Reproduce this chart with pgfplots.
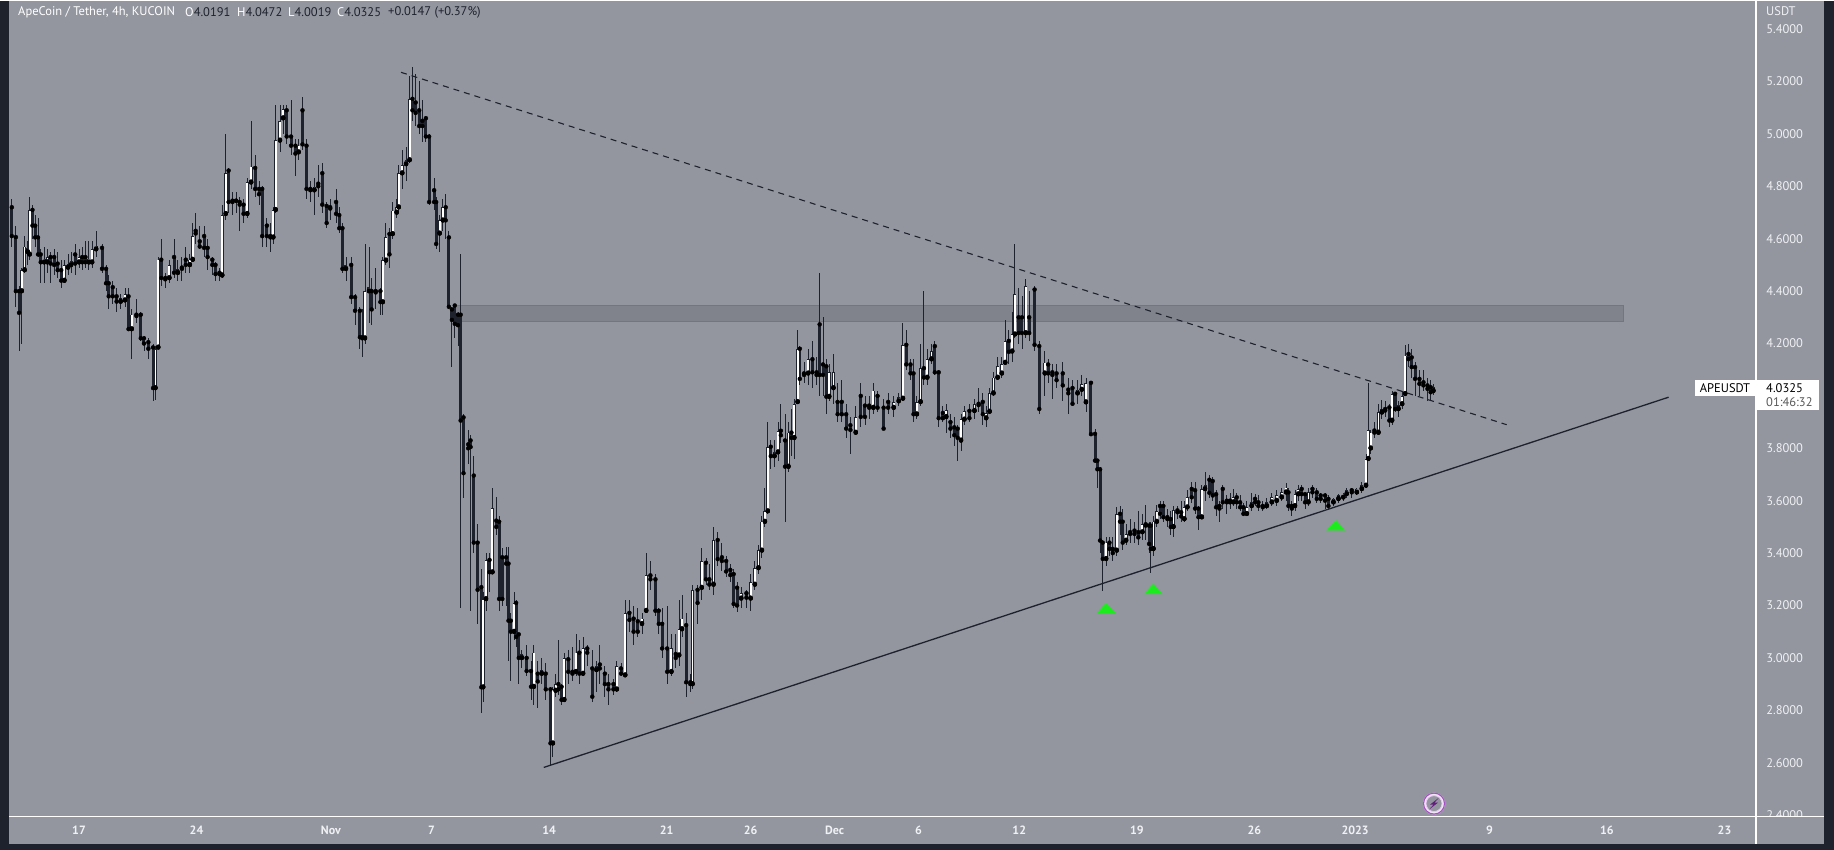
\documentclass[border=0pt]{standalone}
\usepackage{pgfplots}
\usepackage{pgfplotstable}
\usepackage{fontspec}
\pgfplotsset{compat=1.18}
\setmainfont{PT Sans}
\definecolor{panel}{RGB}{147,150,159}
\definecolor{frame}{RGB}{30,34,45}
\definecolor{bandfill}{RGB}{128,131,140}
\definecolor{bandedge}{RGB}{115,118,127}
\definecolor{ticktxt}{RGB}{240,241,244}
\definecolor{signal}{RGB}{30,235,30}
\definecolor{bolt}{RGB}{100,30,125}
\definecolor{ring}{RGB}{165,80,195}

% 4h candles; x = days after 17 Oct, o h l c in USDT
\pgfplotstableread{
x o h l c
-4.00 4.72 4.75 4.57 4.61
-3.76 4.606 4.65 4.34 4.40
-3.57 4.40 4.42 4.17 4.317
-3.41 4.40 4.49 4.20 4.48
-3.24 4.48 4.61 4.47 4.57
-3.06 4.55 4.59 4.50 4.56
-2.94 4.54 4.76 4.52 4.71
-2.77 4.71 4.73 4.60 4.65
-2.61 4.65 4.69 4.57 4.605
-2.44 4.605 4.68 4.53 4.54
-2.28 4.54 4.56 4.43 4.51
-2.07 4.51 4.57 4.43 4.52
-1.88 4.51 4.56 4.47 4.53
-1.69 4.53 4.55 4.43 4.505
-1.48 4.53 4.56 4.46 4.50
-1.27 4.505 4.55 4.45 4.48
-1.06 4.48 4.52 4.41 4.44
-0.87 4.44 4.52 4.43 4.50
-0.65 4.49 4.54 4.46 4.50
-0.47 4.50 4.55 4.47 4.51
-0.23 4.54 4.58 4.46 4.505
0.00 4.51 4.56 4.49 4.53
0.19 4.53 4.57 4.48 4.51
0.38 4.53 4.59 4.49 4.51
0.59 4.51 4.59 4.48 4.52
0.78 4.51 4.59 4.49 4.56
1.02 4.56 4.63 4.53 4.565
1.37 4.565 4.58 4.47 4.485
1.61 4.485 4.50 4.40 4.43
1.77 4.43 4.46 4.33 4.38
2.01 4.415 4.44 4.35 4.38
2.24 4.38 4.41 4.32 4.36
2.48 4.36 4.39 4.33 4.365
2.74 4.365 4.41 4.34 4.39
2.95 4.38 4.41 4.25 4.255
3.14 4.255 4.33 4.14 4.31
3.42 4.31 4.37 4.28 4.305
3.68 4.31 4.32 4.21 4.22
3.87 4.22 4.23 4.17 4.20
4.13 4.205 4.22 4.14 4.18
4.41 4.185 4.20 3.98 4.03
4.55 4.03 4.19 3.985 4.18
4.72 4.185 4.53 4.18 4.52
4.90 4.52 4.60 4.42 4.45
5.14 4.45 4.47 4.41 4.445
5.38 4.45 4.52 4.43 4.50
5.66 4.53 4.60 4.45 4.47
5.89 4.47 4.52 4.44 4.475
6.13 4.49 4.53 4.44 4.485
6.36 4.52 4.57 4.47 4.50
6.60 4.50 4.54 4.47 4.52
6.77 4.52 4.66 4.51 4.61
6.95 4.63 4.70 4.58 4.62
7.19 4.59 4.65 4.56 4.57
7.45 4.61 4.65 4.53 4.565
7.66 4.565 4.60 4.48 4.53
7.94 4.52 4.53 4.46 4.50
8.13 4.50 4.51 4.44 4.465
8.37 4.47 4.49 4.44 4.465
8.53 4.46 4.73 4.45 4.69
8.74 4.695 5.00 4.67 4.85
8.91 4.86 4.87 4.70 4.74
9.14 4.745 4.78 4.69 4.74
9.36 4.745 4.78 4.70 4.745
9.57 4.74 4.76 4.63 4.73
9.80 4.73 4.75 4.66 4.695
10.02 4.695 4.83 4.68 4.815
10.25 4.815 5.05 4.79 4.875
10.49 4.87 4.92 4.76 4.79
10.72 4.79 4.82 4.73 4.77
10.91 4.79 4.80 4.57 4.61
11.19 4.65 4.68 4.57 4.61
11.40 4.61 4.66 4.55 4.605
11.57 4.605 4.72 4.58 4.71
11.71 4.71 5.11 4.70 4.975
11.97 4.975 5.11 4.93 5.05
12.16 5.06 5.11 5.00 5.095
12.37 5.09 5.11 4.96 4.99
12.63 4.99 5.13 4.92 4.955
12.89 4.955 4.98 4.84 4.925
13.08 4.93 4.98 4.90 4.955
13.31 5.09 5.14 4.94 4.96
13.55 4.955 4.98 4.75 4.79
13.78 4.79 4.82 4.74 4.785
14.02 4.785 4.83 4.69 4.795
14.25 4.81 4.88 4.76 4.80
14.49 4.85 4.89 4.70 4.73
14.75 4.725 4.74 4.64 4.66
14.96 4.72 4.75 4.67 4.715
15.31 4.74 4.79 4.66 4.695
15.50 4.69 4.72 4.62 4.64
15.69 4.64 4.66 4.47 4.485
15.90 4.485 4.53 4.44 4.50
16.21 4.50 4.53 4.35 4.377
16.44 4.377 4.39 4.27 4.325
16.73 4.325 4.34 4.18 4.224
16.87 4.224 4.33 4.15 4.22
17.03 4.22 4.58 4.20 4.40
17.27 4.40 4.57 4.28 4.408
17.43 4.40 4.45 4.27 4.33
17.67 4.40 4.49 4.33 4.395
17.95 4.40 4.41 4.31 4.358
18.09 4.358 4.53 4.31 4.517
18.28 4.517 4.66 4.50 4.605
18.49 4.618 4.64 4.49 4.54
18.68 4.618 4.74 4.60 4.707
18.92 4.70 4.75 4.68 4.72
19.04 4.72 4.88 4.70 4.85
19.25 4.85 4.94 4.79 4.88
19.48 4.885 4.95 4.82 4.90
19.69 4.90 5.22 4.89 5.134
19.86 5.134 5.257 5.05 5.09
20.05 5.12 5.23 5.03 5.08
20.26 5.09 5.20 5.00 5.03
20.45 5.05 5.13 4.97 5.03
20.66 5.06 5.07 4.97 4.99
20.85 4.99 5.00 4.73 4.74
21.15 4.785 4.83 4.71 4.74
21.27 4.74 4.76 4.56 4.58
21.48 4.62 4.69 4.55 4.67
21.67 4.67 4.75 4.63 4.72
21.84 4.72 4.77 4.60 4.67
22.03 4.605 4.63 4.33 4.34
22.21 4.33 4.34 4.11 4.29
22.38 4.345 4.35 4.22 4.275
22.57 4.31 4.32 4.19 4.27
22.73 4.31 4.54 3.19 3.906
22.90 3.918 3.93 3.61 3.705
23.18 3.815 3.87 3.74 3.80
23.32 3.83 3.85 3.18 3.805
23.51 3.696 3.77 3.40 3.44
23.74 3.44 3.51 3.13 3.26
23.96 3.27 3.34 2.79 2.888
24.07 2.888 3.25 2.83 3.225
24.24 3.225 3.40 3.18 3.374
24.45 3.374 3.40 3.25 3.327
24.62 3.327 3.65 3.32 3.572
24.85 3.524 3.615 3.47 3.50
25.02 3.52 3.54 3.18 3.225
25.21 3.384 3.42 3.20 3.225
25.44 3.384 3.425 3.20 3.36
25.58 3.36 3.425 2.99 3.142
25.72 3.142 3.17 2.91 3.10
25.91 3.10 3.25 3.07 3.21
26.03 3.21 3.22 3.04 3.08
26.19 3.09 3.09 2.90 3.00
26.38 3.00 3.03 2.96 3.005
26.66 3.00 3.05 2.93 2.95
26.92 2.95 2.99 2.84 2.89
27.09 2.89 3.05 2.82 3.02
27.32 2.94 2.99 2.81 2.91
27.56 2.94 3.00 2.90 2.945
27.80 2.94 2.98 2.84 2.88
28.08 2.88 2.89 2.59 2.674
28.22 2.674 2.89 2.62 2.88
28.39 2.875 2.94 2.85 2.90
28.55 2.90 3.07 2.86 2.88
28.74 2.89 2.90 2.82 2.84
28.90 2.84 3.02 2.83 3.00
29.14 2.995 3.03 2.90 2.947
29.39 2.947 3.04 2.91 2.94
29.60 2.947 3.09 2.93 3.02
29.80 3.02 3.07 2.90 2.94
30.02 2.94 3.08 2.93 3.036
30.27 3.036 3.05 2.97 3.02
30.57 2.96 3.03 2.83 2.852
30.82 2.954 2.99 2.87 2.968
31.02 2.975 3.05 2.90 2.96
31.32 2.94 2.97 2.85 2.90
31.53 2.90 2.94 2.82 2.88
31.83 2.90 2.92 2.86 2.88
32.03 2.88 2.99 2.87 2.968
32.28 2.96 2.98 2.93 2.94
32.53 2.934 3.22 2.93 3.172
32.78 3.172 3.22 3.10 3.145
33.03 3.15 3.20 3.05 3.10
33.28 3.14 3.19 3.08 3.10
33.53 3.13 3.17 3.09 3.15
33.78 3.18 3.40 3.17 3.315
34.03 3.315 3.37 3.26 3.30
34.33 3.30 3.32 3.16 3.18
34.53 3.18 3.19 3.09 3.13
34.73 3.13 3.19 3.00 3.036
35.03 3.036 3.20 2.90 2.947
35.28 2.947 3.09 2.93 3.036
35.54 3.015 3.09 2.96 3.00
35.74 3.01 3.22 2.97 3.11
35.91 3.11 3.24 3.08 3.15
36.16 3.125 3.17 2.85 2.907
36.41 2.907 2.94 2.87 2.90
36.54 2.90 3.28 2.88 3.26
36.84 3.26 3.28 3.13 3.21
37.09 3.268 3.42 3.22 3.37
37.34 3.363 3.38 3.28 3.30
37.54 3.30 3.36 3.26 3.28
37.79 3.28 3.50 3.24 3.45
38.04 3.45 3.48 3.35 3.377
38.29 3.384 3.44 3.33 3.37
38.54 3.37 3.39 3.31 3.33
38.79 3.336 3.36 3.29 3.316
38.99 3.32 3.34 3.19 3.206
39.19 3.268 3.29 3.175 3.20
39.44 3.227 3.27 3.19 3.247
39.75 3.247 3.26 3.19 3.23
40.00 3.227 3.32 3.18 3.288
40.25 3.28 3.37 3.26 3.343
40.47 3.343 3.43 3.32 3.41
40.67 3.41 3.54 3.38 3.52
40.85 3.52 3.65 3.50 3.56
41.02 3.56 3.90 3.55 3.806
41.20 3.806 3.83 3.72 3.77
41.42 3.77 3.83 3.73 3.785
41.63 3.785 3.90 3.75 3.867
41.80 3.867 3.97 3.82 3.85
42.05 3.83 3.93 3.52 3.73
42.25 3.73 3.90 3.71 3.86
42.43 3.86 3.95 3.77 3.84
42.60 3.84 3.99 3.76 3.97
42.80 3.977 4.25 3.97 4.18
42.93 4.18 4.19 4.04 4.065
43.18 4.086 4.13 4.05 4.08
43.43 4.086 4.18 4.04 4.14
43.68 4.14 4.21 4.03 4.09
43.93 4.09 4.15 4.04 4.08
44.11 4.273 4.47 4.00 4.08
44.31 4.12 4.30 4.00 4.08
44.51 4.113 4.14 3.93 3.997
44.68 3.997 4.12 3.98 4.09
44.93 4.03 4.16 3.97 4.09
45.18 3.977 4.05 3.90 3.93
45.43 3.977 4.06 3.90 3.93
45.69 3.93 3.97 3.84 3.875
45.94 3.888 3.92 3.78 3.87
46.26 3.86 3.96 3.85 3.92
46.56 4.00 4.05 3.88 3.92
46.81 3.963 4.00 3.89 3.92
47.06 3.963 4.00 3.91 3.955
47.31 3.955 4.05 3.93 4.02
47.56 4.00 4.02 3.94 3.955
47.92 3.955 3.99 3.87 3.875
48.19 3.977 4.01 3.93 3.955
48.52 3.955 4.00 3.92 3.977
48.82 3.98 4.01 3.96 3.987
49.07 3.99 4.28 3.98 4.195
49.27 4.195 4.25 4.10 4.12
49.52 4.12 4.14 4.06 4.086
49.70 4.086 4.14 3.90 3.93
49.90 3.93 4.00 3.91 3.977
50.12 3.977 4.20 3.96 4.106
50.32 4.106 4.40 4.04 4.07
50.52 4.07 4.18 4.04 4.14
50.77 4.14 4.20 4.12 4.17
50.97 4.19 4.21 4.08 4.09
51.20 4.09 4.10 3.88 3.915
51.45 3.935 3.96 3.90 3.915
51.65 3.92 3.97 3.86 3.945
51.90 3.90 3.93 3.84 3.875
52.13 3.88 3.92 3.81 3.85
52.33 3.875 3.89 3.75 3.84
52.53 3.83 3.93 3.79 3.91
52.73 3.91 3.96 3.89 3.943
53.03 3.943 3.97 3.90 3.915
53.33 3.943 3.99 3.91 3.97
53.58 3.97 4.03 3.94 3.965
53.83 3.977 4.01 3.89 3.93
54.03 3.915 3.96 3.88 3.935
54.23 3.94 4.03 3.93 4.01
54.46 4.01 4.09 4.00 4.07
54.71 4.07 4.15 4.06 4.113
54.96 4.086 4.15 4.07 4.12
55.16 4.127 4.29 4.12 4.21
55.38 4.21 4.25 4.12 4.168
55.58 4.17 4.32 4.13 4.235
55.74 4.235 4.58 4.22 4.39
55.96 4.30 4.41 4.20 4.24
56.16 4.30 4.38 4.18 4.24
56.39 4.24 4.445 4.22 4.42
56.59 4.30 4.40 4.21 4.24
56.91 4.406 4.42 4.17 4.195
57.19 4.19 4.21 3.93 3.95
57.52 4.086 4.17 4.00 4.127
57.72 4.12 4.14 4.05 4.086
57.97 4.09 4.12 3.99 4.08
58.22 4.086 4.12 4.03 4.06
58.59 4.086 4.13 3.98 4.04
58.92 4.024 4.07 3.93 4.01
59.17 4.03 4.06 3.96 3.97
59.47 4.01 4.06 3.97 4.024
59.72 4.024 4.08 4.00 4.045
59.97 3.976 4.07 3.94 4.05
60.27 4.05 4.055 3.85 3.854
60.51 3.855 3.875 3.745 3.753
60.65 3.753 3.76 3.65 3.72
60.81 3.72 3.73 3.40 3.448
60.97 3.44 3.45 3.257 3.378
61.17 3.378 3.46 3.35 3.44
61.37 3.44 3.46 3.39 3.416
61.57 3.416 3.46 3.37 3.40
61.80 3.41 3.575 3.39 3.55
62.00 3.55 3.58 3.47 3.52
62.16 3.52 3.57 3.41 3.44
62.36 3.448 3.51 3.43 3.473
62.60 3.48 3.53 3.44 3.473
62.86 3.486 3.52 3.44 3.473
63.09 3.48 3.56 3.43 3.46
63.33 3.48 3.55 3.45 3.51
63.53 3.51 3.585 3.45 3.505
63.73 3.505 3.52 3.40 3.435
63.83 3.505 3.52 3.325 3.416
63.99 3.416 3.54 3.39 3.52
64.19 3.52 3.585 3.50 3.56
64.38 3.58 3.60 3.53 3.55
64.58 3.58 3.60 3.52 3.537
64.82 3.537 3.57 3.50 3.53
65.02 3.53 3.56 3.47 3.50
65.18 3.50 3.58 3.46 3.563
65.42 3.563 3.58 3.53 3.556
65.64 3.556 3.60 3.52 3.54
65.83 3.53 3.60 3.52 3.575
66.01 3.575 3.64 3.56 3.613
66.27 3.645 3.67 3.59 3.613
66.47 3.64 3.67 3.55 3.57
66.67 3.57 3.58 3.49 3.537
66.87 3.537 3.66 3.53 3.645
67.06 3.645 3.71 3.60 3.65
67.32 3.68 3.70 3.61 3.63
67.52 3.675 3.69 3.60 3.62
67.72 3.625 3.64 3.54 3.575
67.92 3.58 3.60 3.52 3.57
68.12 3.645 3.66 3.57 3.594
68.36 3.60 3.62 3.55 3.594
68.55 3.60 3.63 3.57 3.594
68.75 3.594 3.645 3.58 3.613
68.95 3.613 3.63 3.57 3.594
69.15 3.594 3.62 3.56 3.575
69.35 3.575 3.59 3.54 3.55
69.55 3.55 3.60 3.54 3.575
69.84 3.58 3.63 3.56 3.594
70.04 3.607 3.625 3.58 3.594
70.24 3.594 3.62 3.56 3.58
70.50 3.58 3.60 3.56 3.575
70.74 3.58 3.61 3.57 3.594
71.04 3.594 3.63 3.58 3.613
71.33 3.60 3.64 3.58 3.62
71.63 3.613 3.65 3.60 3.632
71.89 3.632 3.668 3.60 3.65
72.03 3.632 3.65 3.56 3.58
72.23 3.58 3.60 3.54 3.57
72.42 3.58 3.64 3.56 3.625
72.62 3.625 3.66 3.60 3.645
72.82 3.645 3.66 3.60 3.625
73.02 3.625 3.63 3.57 3.594
73.22 3.594 3.65 3.58 3.632
73.46 3.645 3.66 3.61 3.632
73.72 3.632 3.65 3.59 3.607
73.95 3.62 3.63 3.59 3.607
74.21 3.62 3.63 3.57 3.60
74.41 3.607 3.62 3.57 3.58
74.71 3.594 3.61 3.58 3.60
75.01 3.607 3.625 3.59 3.613
75.30 3.613 3.63 3.60 3.62
75.50 3.626 3.65 3.61 3.64
75.80 3.64 3.65 3.61 3.632
76.10 3.632 3.65 3.62 3.64
76.40 3.645 3.67 3.63 3.658
76.65 3.658 3.78 3.65 3.76
76.79 3.76 4.05 3.75 3.868
76.93 3.80 3.87 3.78 3.86
77.15 3.868 3.90 3.84 3.86
77.39 3.86 3.97 3.85 3.937
77.59 3.937 3.985 3.91 3.95
77.79 3.95 3.98 3.92 3.944
78.04 3.956 3.97 3.88 3.906
78.20 3.906 4.02 3.89 4.008
78.38 4.008 4.01 3.94 3.95
78.58 3.95 3.98 3.92 3.963
78.80 3.969 4.02 3.95 4.00
78.98 4.008 4.195 4.00 4.154
79.18 4.16 4.20 4.11 4.14
79.37 4.147 4.18 4.07 4.11
79.57 4.11 4.13 4.00 4.065
79.83 4.065 4.10 4.00 4.046
80.07 4.052 4.10 4.02 4.04
80.31 4.04 4.07 3.98 4.027
80.50 4.033 4.06 3.98 4.014
80.66 4.0191 4.0472 4.0019 4.0325
}\candles

\begin{document}
\begin{tikzpicture}[x=1pt,y=1pt]
% screen frame and chart panel
\fill[frame] (0,0) rectangle (1834,849);
\fill[panel] (9,6) rectangle (1823.5,849);

\begin{axis}[
    at={(9pt,33pt)}, anchor=south west,
    width=1747pt, height=816pt, scale only axis,
    xmin=-4.169, xmax=99.88,
    ymin=2.3943, ymax=5.5088,
    clip=true,
    axis x line=bottom, axis y line=right,
    axis line style={draw=none},
    major tick length=0pt,
    xtick={0,7,15,21,28,35,40,45,50,56,63,70,76,84,91,98},
    xticklabels={17,24,Nov,7,14,21,26,Dec,6,12,19,26,2023,9,16,23},
    x tick label style={font=\fontsize{12}{14}\selectfont\bfseries, text=ticktxt, anchor=center, yshift=-14pt},
    % 4.0000 sits under the last price tag
    ytick={2.4,2.6,2.8,3.0,3.2,3.4,3.6,3.8,4.2,4.4,4.6,4.8,5.0,5.2,5.4},
    y tick label style={font=\fontsize{12.5}{14}\selectfont, text=ticktxt, anchor=west, inner sep=0pt, xshift=10pt,
        /pgf/number format/fixed, /pgf/number format/zerofill, /pgf/number format/precision=4,
        /pgf/number format/assume math mode=true},
]
% resistance band
\addplot[fill=bandfill, draw=bandedge, line width=0.8pt] coordinates {(22.28,4.285) (91.98,4.285) (91.98,4.345) (22.28,4.345)} -- cycle;
% wicks
\addplot[only marks, mark=none, error bars/.cd, y dir=both, y explicit, error mark=none,
    error bar style={line width=0.9pt, color=frame}]
    table[x=x, y=o, y error plus expr=\thisrow{h}-\thisrow{o}, y error minus expr=\thisrow{o}-\thisrow{l}] {\candles};
% bodies, small rising ones kept tall enough to show their white core
\addplot[only marks, mark=none, error bars/.cd, y dir=plus, y explicit, error mark=none,
    error bar style={line width=3pt, color=frame}]
    table[x=x, y expr={min(\thisrow{o},\thisrow{c})}, y error plus expr={\thisrow{c}>\thisrow{o} ? max(\thisrow{c}-\thisrow{o},0.014) : max(\thisrow{o}-\thisrow{c},0.004)}] {\candles};
% white core of rising candles
\addplot[only marks, mark=none, error bars/.cd, y dir=plus, y explicit, error mark=none,
    error bar style={line width=1.8pt, color=white}]
    table[x expr={\thisrow{c}>\thisrow{o} ? \thisrow{x} : nan}, y expr={\thisrow{o}+0.003}, y error plus expr={max(\thisrow{c}-\thisrow{o}-0.006,0.008)}] {\candles};
% trend lines
\addplot[frame, line width=1.1pt, dash pattern=on 6pt off 5pt] coordinates {(19.18,5.235) (85.03,3.89)};
\addplot[frame, line width=1.3pt] coordinates {(27.68,2.582) (94.67,3.995)};
% touch markers
\addplot[only marks, mark=triangle*, mark size=6pt, mark options={fill=signal, draw=signal, xscale=1.75, yscale=1.1}]
    coordinates {(61.17,3.184) (63.98,3.257) (74.85,3.50)};
\end{axis}

% clipped bottom of the price scale, then the scale lines
\fill[panel] (1757,6) rectangle (1823.5,32.6);
\draw[white, line width=1.2pt] (9,33) -- (1823.5,33);
\draw[white, line width=1.2pt] (1756,6) -- (1756,849);

% header
\begin{scope}[every node/.style={anchor=west, inner sep=0pt, text=frame, font=\fontsize{12.5}{14}\selectfont}]
\node[text=white] at (18,837) {ApeCoin / Tether, 4h, KUCOIN};
\node at (185,837) {\textcolor{white}{O}4.0191};
\node at (237,837) {\textcolor{white}{H}4.0472};
\node at (288,837) {\textcolor{white}{L}4.0019};
\node at (337,837) {\textcolor{white}{C}4.0325};
\node at (388,837) {+0.0147 (+0.37\%)};
\end{scope}
\node[anchor=west, inner sep=0pt, text=ticktxt, font=\fontsize{12.5}{14}\selectfont] at (1766,838.5) {USDT};

% last price tags
\fill[white] (1695,453.3) rectangle (1755,470);
\fill[white] (1756.6,439.3) rectangle (1819,470);
\node[anchor=center, inner sep=0pt, text=black, font=\fontsize{12.5}{14}\selectfont] at (1725,461.5) {APEUSDT};
\node[anchor=west, inner sep=0pt, text=black, font=\fontsize{12.5}{14}\selectfont] at (1766,461.3) {4.0325};
\node[anchor=west, inner sep=0pt, text=black!65, font=\fontsize{12.5}{14}\selectfont] at (1766,447.3) {01:46:32};

% lightning badge
\fill[white!85!ring] (1434,46) circle (11);
\draw[ring, line width=1.1pt] (1434,46) circle (10.5);
\fill[panel] (1434,46) circle (8);
\draw[white!70!ring, line width=0.8pt] (1434,46) circle (8);
\fill[bolt] (1439,52) -- (1430,45) -- (1433.5,45) -- (1429,40) -- (1438,47) -- (1434.5,47) -- cycle;
\end{tikzpicture}
\end{document}
